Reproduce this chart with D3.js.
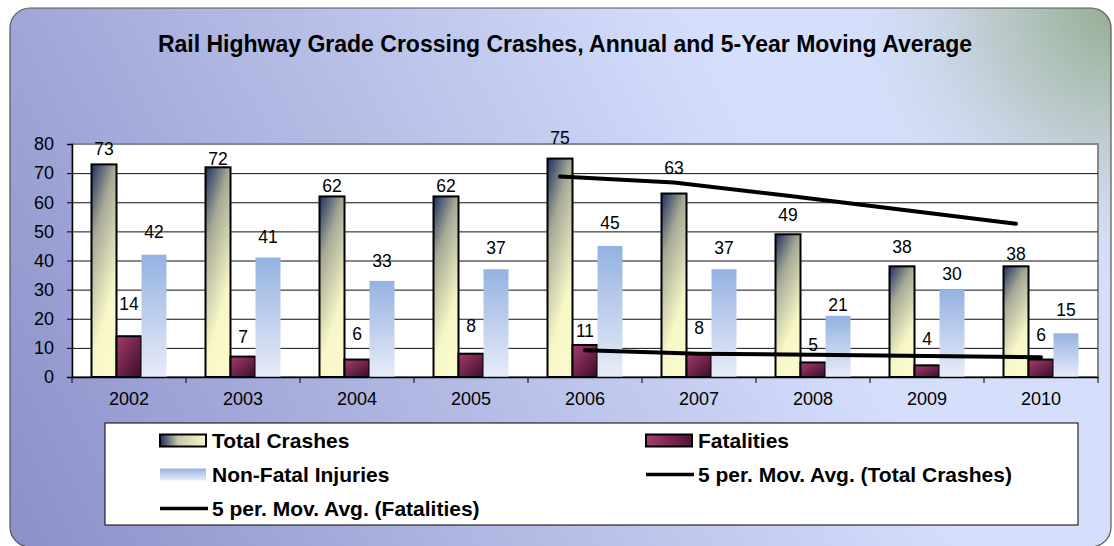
<!DOCTYPE html>
<html>
<head>
<meta charset="utf-8">
<script src="https://cdn.jsdelivr.net/npm/d3@7"></script>
<style>
  html, body { margin: 0; padding: 0; background: #fff; }
  svg { display: block; font-family: Arial, "Liberation Sans", sans-serif; }
</style>
</head>
<body>
<div class="display"></div>
<script>
// Rail highway grade crossing crashes, bars + 5-year moving averages

const WIDTH = 1114;
const HEIGHT = 546;

const years = ['2002', '2003', '2004', '2005', '2006', '2007', '2008', '2009', '2010'];
const totalCrashes = [73, 72, 62, 62, 75, 63, 49, 38, 38];
const fatalities = [14, 7, 6, 8, 11, 8, 5, 4, 6];
const nonFatalInjuries = [42, 41, 33, 37, 45, 37, 21, 30, 15];

// moving averages as drawn (first point is 2006)
const maYears = ['2006', '2007', '2008', '2009', '2010'];
const maTotalCrashes = [68.8, 66.8, 62.2, 57.4, 52.6];
const maFatalities = [9.2, 8.0, 7.6, 7.2, 6.8];

const yTicks = [0, 10, 20, 30, 40, 50, 60, 70, 80];

// how far (px) each data label sits above its bar, the labels were hand placed
const liftTotal = [9, 2, 4, 4, 15, 20, 13, 13, 6];
const liftFatal = [26, 14, 20, 22, 8, 20, 11, 20, 19];
const liftInjury = [17, 15, 14, 15, 17, 15, 5, 10, 17];

const plot = { left: 72, right: 1098, top: 144, bottom: 377 };

const svg = d3.select('.display')
  .append('svg')
  .attr('width', WIDTH)
  .attr('height', HEIGHT);

const defs = svg.append('defs');

// background
const bg = defs.append('linearGradient')
  .attr('id', 'bg')
  .attr('gradientUnits', 'userSpaceOnUse')
  .attr('x1', 10).attr('y1', 560).attr('x2', 780).attr('y2', 170);
bg.append('stop').attr('offset', 0).attr('stop-color', '#8a8fc8');
bg.append('stop').attr('offset', 1).attr('stop-color', '#d5dffc');

const corner = defs.append('radialGradient')
  .attr('id', 'corner')
  .attr('gradientUnits', 'userSpaceOnUse')
  .attr('cx', 1125).attr('cy', 0).attr('r', 300);
corner.append('stop').attr('offset', 0).attr('stop-color', '#8ea886').attr('stop-opacity', 1);
corner.append('stop').attr('offset', 0.45).attr('stop-color', '#b0c2b8').attr('stop-opacity', 0.7);
corner.append('stop').attr('offset', 1).attr('stop-color', '#d5dffc').attr('stop-opacity', 0);

const gTotal = defs.append('linearGradient')
  .attr('id', 'gTotal')
  .attr('x1', 0).attr('y1', 0).attr('x2', 0.4).attr('y2', 1);
gTotal.append('stop').attr('offset', 0).attr('stop-color', '#1b2f62');
gTotal.append('stop').attr('offset', 0.33).attr('stop-color', '#a6a895');
gTotal.append('stop').attr('offset', 0.8).attr('stop-color', '#f6f6c6');
gTotal.append('stop').attr('offset', 1).attr('stop-color', '#f9f9cc');

const gFatal = defs.append('linearGradient')
  .attr('id', 'gFatal')
  .attr('x1', 0).attr('y1', 0).attr('x2', 1).attr('y2', 1);
gFatal.append('stop').attr('offset', 0).attr('stop-color', '#a63c70');
gFatal.append('stop').attr('offset', 1).attr('stop-color', '#3a0c25');

const gInjury = defs.append('linearGradient')
  .attr('id', 'gInjury')
  .attr('x1', 0).attr('y1', 0).attr('x2', 0).attr('y2', 1);
gInjury.append('stop').attr('offset', 0).attr('stop-color', '#94b2e2');
gInjury.append('stop').attr('offset', 1).attr('stop-color', '#e8ecf8');

const gTotalLeg = defs.append('linearGradient')
  .attr('id', 'gTotalLeg')
  .attr('x1', 0).attr('y1', 0).attr('x2', 1).attr('y2', 0);
gTotalLeg.append('stop').attr('offset', 0).attr('stop-color', '#1b2f62');
gTotalLeg.append('stop').attr('offset', 0.4).attr('stop-color', '#c9c9aa');
gTotalLeg.append('stop').attr('offset', 1).attr('stop-color', '#f6f6c6');

const gFatalLeg = defs.append('linearGradient')
  .attr('id', 'gFatalLeg')
  .attr('x1', 0).attr('y1', 0).attr('x2', 1).attr('y2', 0);
gFatalLeg.append('stop').attr('offset', 0).attr('stop-color', '#a63c70');
gFatalLeg.append('stop').attr('offset', 1).attr('stop-color', '#521535');

svg.append('rect')
  .attr('x', 10).attr('y', 8)
  .attr('width', 1101).attr('height', 539)
  .attr('rx', 20).attr('ry', 20)
  .attr('fill', 'url(#bg)');
svg.append('rect')
  .attr('x', 10).attr('y', 8)
  .attr('width', 1101).attr('height', 539)
  .attr('rx', 20).attr('ry', 20)
  .attr('fill', 'url(#corner)')
  .attr('stroke', '#555')
  .attr('stroke-width', 1.2);

svg.append('text')
  .attr('x', 565).attr('y', 52)
  .attr('text-anchor', 'middle')
  .attr('font-size', 23)
  .attr('font-weight', 'bold')
  .attr('fill', '#000')
  .text('Rail Highway Grade Crossing Crashes, Annual and 5-Year Moving Average');

// scales
const x0 = d3.scaleBand()
  .domain(years)
  .range([plot.left, plot.right]);

const groupWidth = 75;
const x1 = d3.scaleBand()
  .domain(['total', 'fatal', 'injury'])
  .range([(x0.bandwidth() - groupWidth) / 2, (x0.bandwidth() + groupWidth) / 2]);

const y = d3.scaleLinear()
  .domain([0, 80])
  .range([plot.bottom, plot.top]);

// plot area
svg.append('rect')
  .attr('x', plot.left).attr('y', plot.top)
  .attr('width', plot.right - plot.left)
  .attr('height', plot.bottom - plot.top)
  .attr('fill', '#fff')
  .attr('stroke', '#888')
  .attr('stroke-width', 2);

svg.append('g')
  .attr('class', 'grid')
  .attr('transform', `translate(${plot.left},0)`)
  .call(d3.axisLeft(y).tickValues(yTicks.slice(1, -1)).tickSize(-(plot.right - plot.left)).tickFormat(''))
  .call(g => g.select('.domain').remove())
  .call(g => g.selectAll('line').attr('stroke', '#111').attr('stroke-width', 1));

// bars
const series = [
  { key: 'total', values: totalCrashes, fill: 'url(#gTotal)', stroke: '#000', lift: liftTotal },
  { key: 'fatal', values: fatalities, fill: 'url(#gFatal)', stroke: '#000', lift: liftFatal },
  { key: 'injury', values: nonFatalInjuries, fill: 'url(#gInjury)', stroke: 'none', lift: liftInjury }
];

const barData = [];
series.forEach(s => {
  s.values.forEach((v, i) => barData.push({ key: s.key, year: years[i], value: v, fill: s.fill, stroke: s.stroke, lift: s.lift[i] }));
});

svg.append('g')
  .selectAll('rect')
  .data(barData)
  .enter()
  .append('rect')
  .attr('x', d => x0(d.year) + x1(d.key))
  .attr('y', d => y(d.value))
  .attr('width', x1.bandwidth())
  .attr('height', d => y(0) - y(d.value))
  .attr('fill', d => d.fill)
  .attr('stroke', d => d.stroke)
  .attr('stroke-width', 2);

// axes
const yAxis = svg.append('g')
  .attr('transform', `translate(${plot.left},0)`)
  .call(d3.axisLeft(y).tickValues(yTicks).tickSize(5).tickPadding(13));
yAxis.select('.domain').attr('stroke', '#000').attr('stroke-width', 1.5);
yAxis.selectAll('line').attr('stroke', '#000');
yAxis.selectAll('text').attr('font-size', 18).attr('fill', '#000').attr('font-family', 'Arial, "Liberation Sans", sans-serif');

const xAxis = svg.append('g')
  .attr('transform', `translate(0,${plot.bottom})`)
  .call(d3.axisBottom(x0).tickSize(0).tickPadding(15));
xAxis.select('.domain').attr('stroke', '#000').attr('stroke-width', 1.5);
xAxis.selectAll('text').attr('font-size', 18).attr('fill', '#000').attr('font-family', 'Arial, "Liberation Sans", sans-serif');

// category boundary ticks
svg.append('g')
  .selectAll('line')
  .data(years.concat(['end']))
  .enter()
  .append('line')
  .attr('x1', d => d === 'end' ? plot.right : x0(d))
  .attr('x2', d => d === 'end' ? plot.right : x0(d))
  .attr('y1', plot.bottom)
  .attr('y2', plot.bottom + 6)
  .attr('stroke', '#000');

// moving average lines, drawn through the centre of their own bars
const line = d3.line()
  .x(d => d.x)
  .y(d => y(d.v));

svg.append('path')
  .datum(maYears.map((yr, i) => ({ x: x0(yr) + x1('total') + x1.bandwidth() / 2, v: maTotalCrashes[i] })))
  .attr('d', line)
  .attr('fill', 'none')
  .attr('stroke', '#000')
  .attr('stroke-width', 4)
  .attr('stroke-linecap', 'round');

svg.append('path')
  .datum(maYears.map((yr, i) => ({ x: x0(yr) + x1('fatal') + x1.bandwidth() / 2, v: maFatalities[i] })))
  .attr('d', line)
  .attr('fill', 'none')
  .attr('stroke', '#000')
  .attr('stroke-width', 4)
  .attr('stroke-linecap', 'round');

// data labels
svg.append('g')
  .selectAll('text')
  .data(barData)
  .enter()
  .append('text')
  .attr('x', d => x0(d.year) + x1(d.key) + x1.bandwidth() / 2)
  .attr('y', d => y(d.value) - d.lift)
  .attr('text-anchor', 'middle')
  .attr('font-size', 17.5)
  .attr('fill', '#000')
  .text(d => d.value);

// legend
const legend = svg.append('g');
legend.append('rect')
  .attr('x', 105).attr('y', 423)
  .attr('width', 973).attr('height', 102)
  .attr('fill', '#fff')
  .attr('stroke', '#000')
  .attr('stroke-width', 1);

const legendItems = [
  { label: 'Total Crashes', type: 'bar', fill: 'url(#gTotalLeg)', stroke: '#000', x: 160, y: 440.5 },
  { label: 'Fatalities', type: 'bar', fill: 'url(#gFatalLeg)', stroke: '#000', x: 646, y: 440.5 },
  { label: 'Non-Fatal Injuries', type: 'bar', fill: 'url(#gInjury)', stroke: 'none', x: 160, y: 474.5 },
  { label: '5 per. Mov. Avg. (Total Crashes)', type: 'line', x: 646, y: 474.5 },
  { label: '5 per. Mov. Avg. (Fatalities)', type: 'line', x: 160, y: 508.5 }
];

legendItems.forEach(it => {
  if (it.type === 'bar') {
    legend.append('rect')
      .attr('x', it.x).attr('y', it.y - 6)
      .attr('width', 46).attr('height', 12)
      .attr('fill', it.fill)
      .attr('stroke', it.stroke)
      .attr('stroke-width', 2);
  } else {
    legend.append('line')
      .attr('x1', it.x).attr('x2', it.x + 48)
      .attr('y1', it.y).attr('y2', it.y)
      .attr('stroke', '#000')
      .attr('stroke-width', 3.5);
  }
  legend.append('text')
    .attr('x', it.x + 52)
    .attr('y', it.y + 7.5)
    .attr('font-size', 21)
    .attr('font-weight', 'bold')
    .attr('fill', '#000')
    .text(it.label);
});
</script>
</body>
</html>
